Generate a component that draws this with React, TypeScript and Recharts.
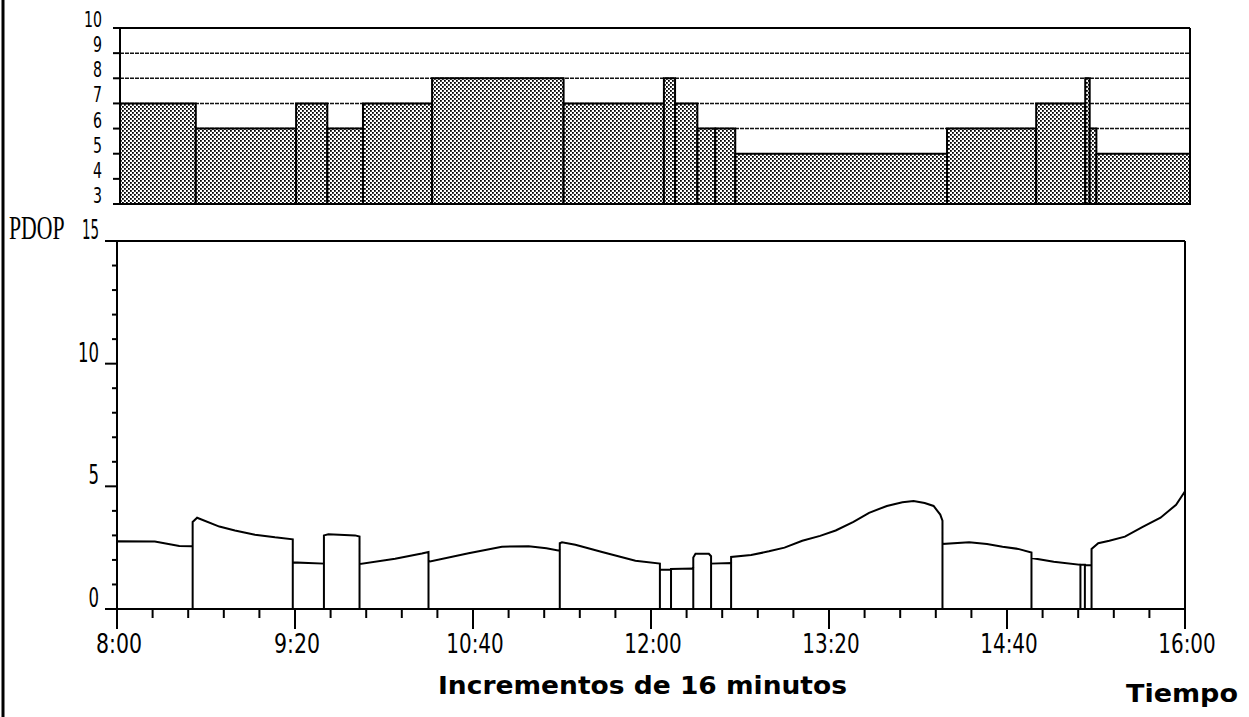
import React from 'react';
import { ComposedChart, Line, XAxis, YAxis, CartesianGrid, ReferenceArea, ReferenceLine } from 'recharts';

// minutes after 8:00 where the tracked satellite set changes
const segmentBounds = [0, 34, 79, 93, 109, 140, 199, 244, 249, 259, 267, 276, 371, 411, 433, 435, 438, 480];
// number of satellites in view for each segment
const satelliteCounts = [7, 6, 7, 6, 7, 8, 7, 8, 7, 6, 6, 5, 6, 7, 8, 6, 5];

// PDOP samples for each segment (minutes after 8:00)
const pdopMinutes = [
  [0, 17, 28, 34],
  [34, 36, 46, 53, 62, 71, 79],
  [79, 93],
  [93, 95, 107, 109],
  [109, 125, 137, 140],
  [140, 158, 173, 185, 193, 199],
  [199, 200, 206, 218, 233, 244],
  [244, 249],
  [249, 259],
  [259, 260, 266, 267],
  [267, 276],
  [276, 285, 293, 300, 308, 316, 323, 331, 338, 346, 353, 358, 363, 367, 370, 371],
  [371, 383, 391, 398, 405, 411],
  [411, 421, 433],
  [433, 435],
  [435, 438],
  [438, 441, 446, 453, 461, 469, 476, 480],
];
const pdopValues = [
  [2.76, 2.75, 2.57, 2.56],
  [3.55, 3.72, 3.36, 3.2, 3.03, 2.92, 2.84],
  [1.9, 1.85],
  [3.0, 3.05, 3.0, 2.95],
  [1.83, 2.05, 2.26, 2.32],
  [1.92, 2.27, 2.54, 2.56, 2.48, 2.37],
  [2.68, 2.72, 2.62, 2.32, 1.97, 1.85],
  [1.6, 1.6],
  [1.63, 1.65],
  [2.1, 2.25, 2.25, 2.15],
  [1.85, 1.87],
  [2.12, 2.2, 2.35, 2.5, 2.78, 2.98, 3.2, 3.55, 3.92, 4.2, 4.35, 4.4, 4.32, 4.2, 3.85, 3.6],
  [2.65, 2.72, 2.65, 2.54, 2.45, 2.3],
  [2.08, 1.93, 1.8],
  [1.8, 1.8],
  [1.78, 1.78],
  [2.45, 2.68, 2.78, 2.95, 3.35, 3.72, 4.25, 4.8],
];

const timeLabels = ['8:00', '9:20', '10:40', '12:00', '13:20', '14:40', '16:00'];
const satTicks = [3, 4, 5, 6, 7, 8, 9, 10];
const pdopTicks = [0, 1, 2, 3, 4, 5, 6, 7, 8, 9, 10, 11, 12, 13, 14, 15];
const pdopLabelled = [0, 5, 10, 15];
const TICK_STEP = 16;
const LABEL_STEP = 80;
const timeTicks = Array.from({ length: 480 / TICK_STEP + 1 }, (_, i) => i * TICK_STEP);

const satSegments = satelliteCounts.map((n, i) => ({ x1: segmentBounds[i], x2: segmentBounds[i + 1], n }));

const pdopData: { t: number; v: number }[] = [];
pdopMinutes.forEach((ts, i) => {
  pdopData.push({ t: segmentBounds[i], v: 0 });
  ts.forEach((t, j) => pdopData.push({ t, v: pdopValues[i][j] }));
  pdopData.push({ t: segmentBounds[i + 1], v: 0 });
});
const satData = segmentBounds.map((t, i) => ({ t, n: satelliteCounts[Math.min(i, satelliteCounts.length - 1)] }));

const NARROW = "'Liberation Sans Narrow', 'DejaVu Sans Condensed', 'Liberation Sans', sans-serif";

const TopYTick = (props: any) => {
  const { x, y, payload } = props;
  const s = String(payload.value);
  return (
    <g>
      <line x1={x - 7} x2={x} y1={y} y2={y} stroke="#000" strokeWidth={2} />
      <text x={x - 18} y={y - 1} textAnchor="end" fontSize={21} fontFamily={NARROW} fill="#000"
        textLength={s.length * 9} lengthAdjust="spacingAndGlyphs">{s}</text>
    </g>
  );
};

const BottomYTick = (props: any) => {
  const { x, y, payload } = props;
  const v = payload.value as number;
  const major = pdopLabelled.includes(v);
  const s = String(v);
  const w = v === 15 ? 17 : s.length * 10.5;
  return (
    <g>
      <line x1={x - (major ? 12 : 5)} x2={x} y1={y} y2={y} stroke="#000" strokeWidth={2} />
      {major && (
        <text x={x - 18} y={y - 2} textAnchor="end" fontSize={27} fontFamily={NARROW} fill="#000"
          textLength={w} lengthAdjust="spacingAndGlyphs">{s}</text>
      )}
      {v === 15 && (
        <text transform={`translate(9 ${y - 2}) scale(0.64 1)`} x={0} y={0} fontSize={34}
          fontFamily="'Liberation Serif', serif" fill="#000">PDOP</text>
      )}
    </g>
  );
};

const BottomXTick = (props: any) => {
  const { x, y, payload } = props;
  const t = payload.value as number;
  const major = t % LABEL_STEP === 0;
  const label = major ? timeLabels[t / LABEL_STEP] : null;
  return (
    <g>
      <line x1={x} x2={x} y1={y} y2={y + (major ? 20 : 9)} stroke="#000" strokeWidth={2} />
      {label && (
        <text x={x + 2} y={y + 44} textAnchor="middle" fontSize={27} fontFamily={NARROW} fill="#000"
          textLength={label.length * 11.5} lengthAdjust="spacingAndGlyphs">{label}</text>
      )}
    </g>
  );
};

export default function App() {
  return (
    <div style={{ position: 'absolute', left: 0, top: 0, width: 1249, height: 717, background: '#fff', overflow: 'hidden' }}>
      <svg width={0} height={0} style={{ position: 'absolute' }}>
        <defs>
          <pattern id="satDots" width={4} height={4} patternUnits="userSpaceOnUse">
            <rect width={4} height={4} fill="#fff" />
            <rect x={0} y={0} width={1.8} height={1.8} fill="#000" />
            <rect x={2} y={2} width={1.8} height={1.8} fill="#000" />
          </pattern>
        </defs>
      </svg>

      <div style={{ position: 'absolute', left: 0, top: 0 }}>
        <ComposedChart width={1249} height={230} data={satData} margin={{ top: 28, right: 59, bottom: 26, left: 0 }}>
          <CartesianGrid horizontal vertical={false} stroke="#111" strokeWidth={1.5} strokeDasharray="4 1" />
          <XAxis type="number" dataKey="t" domain={[0, 480]} ticks={[0, 480]} tick={false} tickLine={false} height={0}
            axisLine={{ stroke: '#000', strokeWidth: 2 }} />
          <YAxis type="number" domain={[3, 10]} ticks={satTicks} interval={0} width={120} tickSize={0} tickMargin={0}
            tickLine={false} tick={<TopYTick />} axisLine={{ stroke: '#000', strokeWidth: 2 }} />
          <Line type="stepAfter" dataKey="n" stroke="none" strokeWidth={0} dot={false} activeDot={false}
            legendType="none" isAnimationActive={false} />
          {satSegments.map((s, i) => (
            <ReferenceArea key={i} x1={s.x1} x2={s.x2} y1={3} y2={s.n} fill="url(#satDots)" fillOpacity={1}
              stroke="#000" strokeWidth={2} />
          ))}
          <ReferenceLine y={10} stroke="#000" strokeWidth={2} />
          <ReferenceLine x={480} stroke="#000" strokeWidth={2} />
        </ComposedChart>
      </div>

      <div style={{ position: 'absolute', left: 0, top: 200 }}>
        <ComposedChart width={1249} height={517} data={pdopData} margin={{ top: 41, right: 64, bottom: 48, left: 0 }}>
          <XAxis type="number" dataKey="t" domain={[0, 480]} ticks={timeTicks} interval={0} height={60}
            tickSize={0} tickMargin={0} tickLine={false} tick={<BottomXTick />} axisLine={{ stroke: '#000', strokeWidth: 2 }} />
          <YAxis type="number" domain={[0, 15]} ticks={pdopTicks} interval={0} width={117} tickSize={0} tickMargin={0}
            tickLine={false} tick={<BottomYTick />} axisLine={{ stroke: '#000', strokeWidth: 2 }} />
          <ReferenceLine y={15} stroke="#000" strokeWidth={2} />
          <ReferenceLine x={480} stroke="#000" strokeWidth={2} />
          <Line type="linear" dataKey="v" stroke="#000" strokeWidth={2} dot={false} isAnimationActive={false} />
        </ComposedChart>
      </div>

      <svg width={1249} height={717} style={{ position: 'absolute', left: 0, top: 0, pointerEvents: 'none' }}>
        <line x1={3} x2={3} y1={0} y2={717} stroke="#000" strokeWidth={3} />
        <text x={438} y={694} fontSize={24} fontWeight="bold" fontFamily="'DejaVu Sans', 'Liberation Sans', sans-serif"
          fill="#000" textLength={409} lengthAdjust="spacingAndGlyphs">Incrementos de 16 minutos</text>
        <text x={1126} y={702} fontSize={24} fontWeight="bold" fontFamily="'DejaVu Sans', 'Liberation Sans', sans-serif"
          fill="#000" textLength={112} lengthAdjust="spacingAndGlyphs">Tiempo</text>
      </svg>
    </div>
  );
}
